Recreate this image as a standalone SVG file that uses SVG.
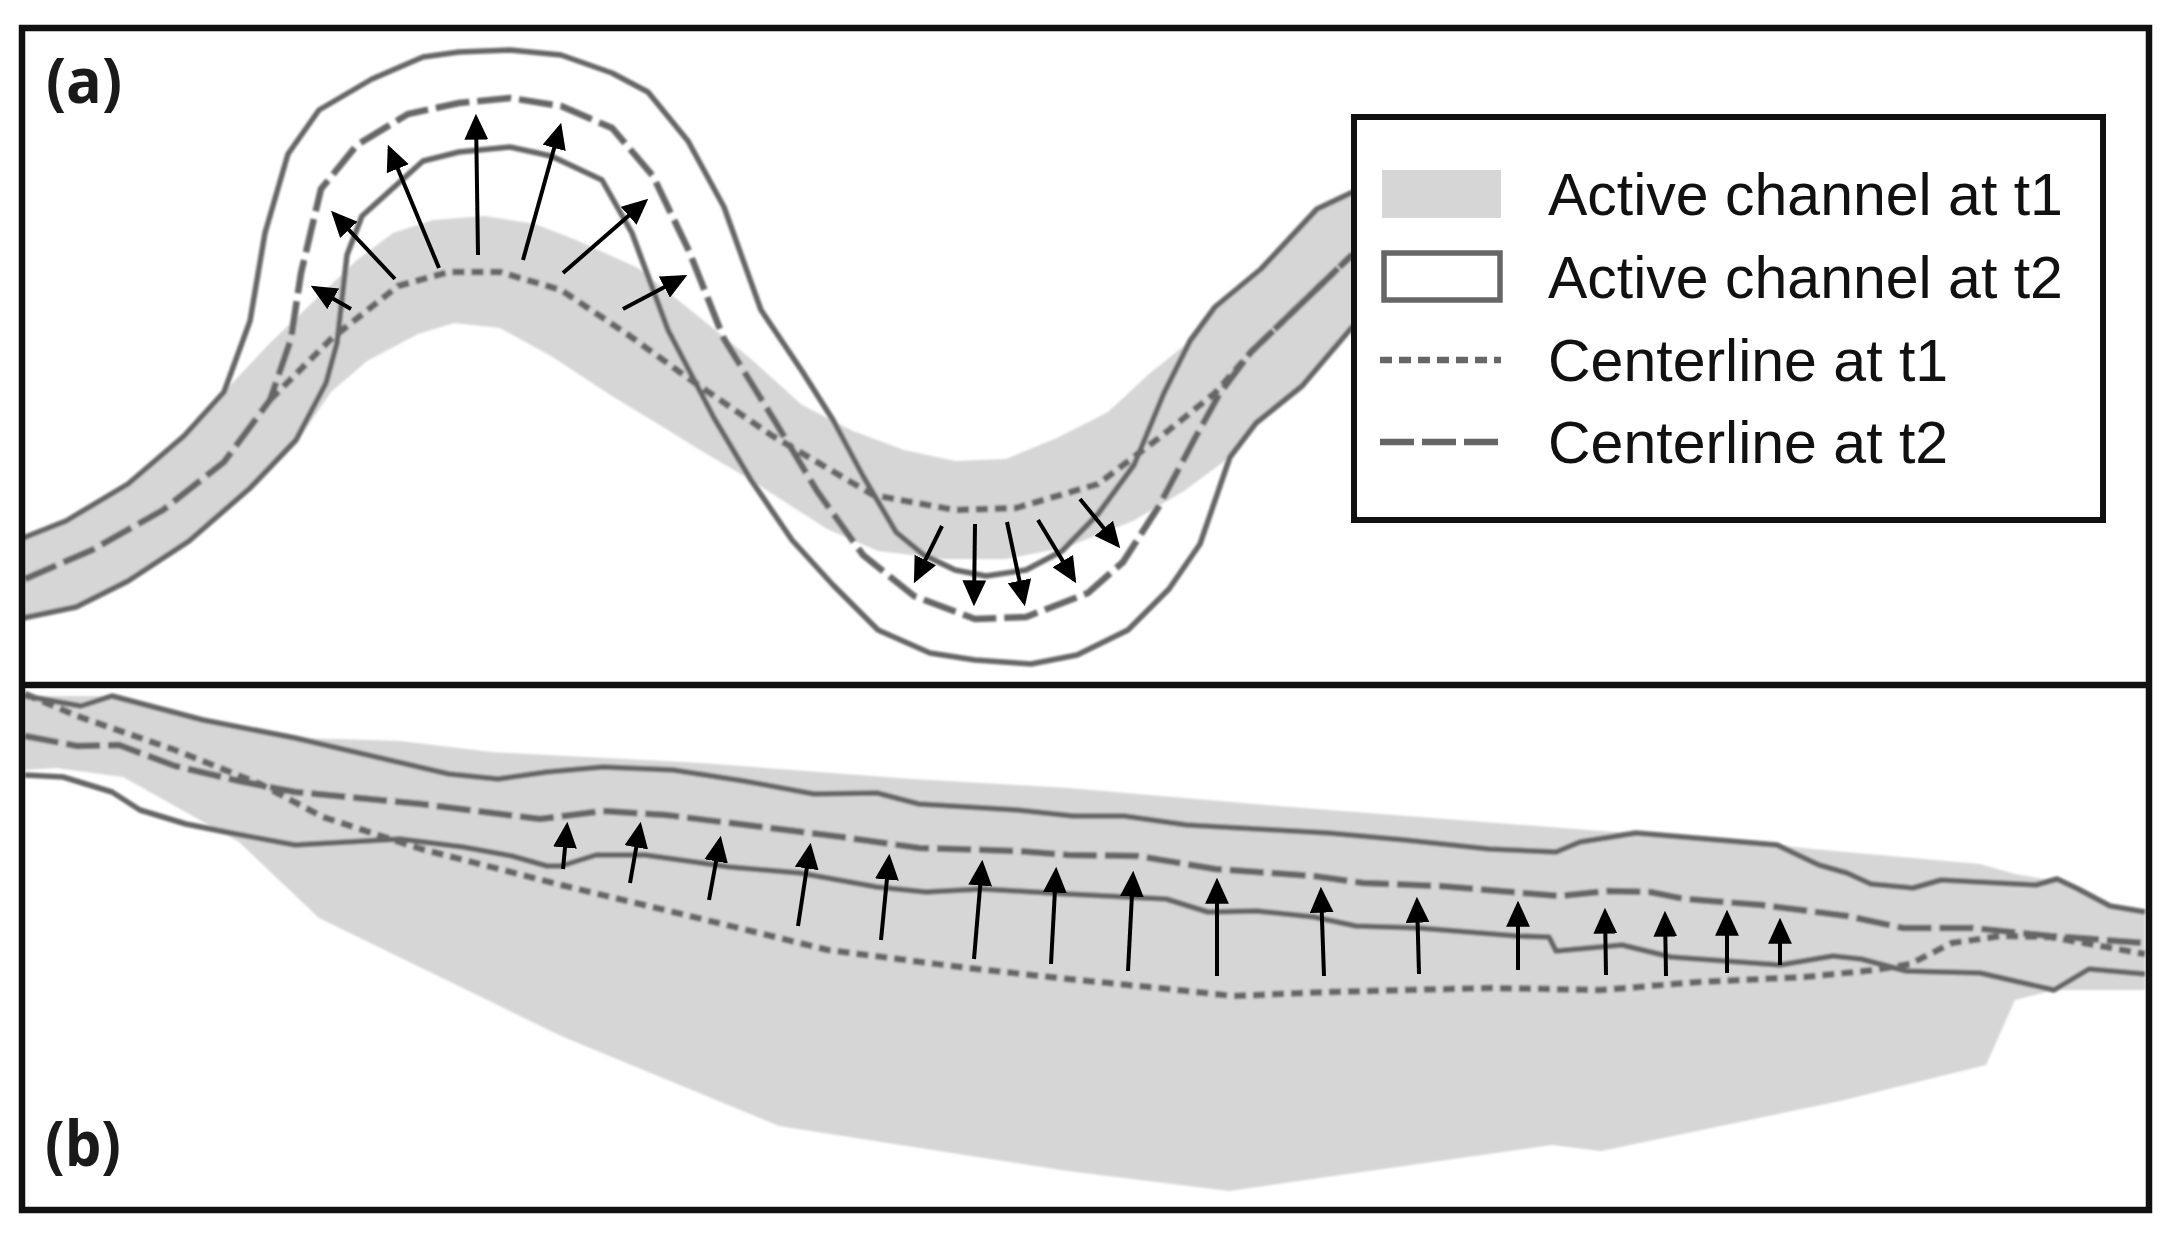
<svg xmlns="http://www.w3.org/2000/svg" width="2168" height="1244" viewBox="0 0 2168 1244">
<style>
.band{fill:#d6d6d6;stroke:none}
.bank{fill:none;stroke:#666;stroke-width:5.5;stroke-linejoin:round}
.t1{fill:none;stroke:#666;stroke-width:6.5;stroke-dasharray:12 7}
.t2{fill:none;stroke:#666;stroke-width:6.5;stroke-dasharray:34 8}
.frame{fill:none;stroke:#111;stroke-width:6.5}
.arrow{fill:none;stroke:#000;stroke-width:4;marker-end:url(#head)}
.lbl{font-family:"Liberation Sans",Arial,sans-serif;font-size:59px;fill:#111}
.tag{font-family:"Open Sans","Liberation Sans",sans-serif;font-size:62px;font-weight:700;fill:#1a1a1a}
</style>
<defs>
<marker id="head" markerUnits="userSpaceOnUse" markerWidth="26" markerHeight="24" viewBox="0 0 24 22" refX="20" refY="11" orient="auto"><path d="M0,0L24,11L0,22z" fill="#000"/></marker>
<clipPath id="pa"><rect x="22" y="28" width="2127" height="657"/></clipPath>
<clipPath id="pb"><rect x="22" y="685" width="2127" height="524"/></clipPath>
<filter id="soft" x="-2%" y="-2%" width="104%" height="104%"><feGaussianBlur stdDeviation="0.8"/></filter>
</defs>
<rect width="2168" height="1244" fill="#fff"/>
<g id="panel-a" clip-path="url(#pa)"><g filter="url(#soft)">
<path class="band" d="M23,538L66,521L128,484L184,436L224,392L270,343L357,260L393,233L433,220L485,216L535,224L576,240L638,268L688,308L751,359L802,405L853,431L904,450L955,461L1006,459L1057,438L1108,412L1149,374L1190,341L1215,307L1261,269L1317,209L1353,192L1353,326L1302,386L1256,423L1230,457L1184,491L1133,521L1067,547L1006,559L945,559L878,551L827,529L751,480L700,450L663,427L612,396L551,356L500,328L454,323L418,334L367,361L331,392L298,440L250,488L189,541L128,581L76,607L23,618z"/>
<path id="a-t2-upper" class="bank" d="M23,538L66,521L128,484L184,436L224,392L250,321L265,233L288,154L319,110L372,79L423,57L459,52L510,50L561,55L612,73L648,92L688,141L724,207L761,310L802,371L833,420L863,476L896,532L924,555L955,570L986,576L1026,570L1062,551L1098,514L1134,465L1164,393L1190,341L1215,307L1261,269L1317,209L1353,192"/>
<path id="a-t2-lower" class="bank" d="M23,618L76,607L128,581L189,541L250,488L296,440L326,383L337,343L347,255L362,216L423,161L459,152L510,147L551,156L602,180L632,233L668,330L714,418L751,480L792,540L833,585L878,630L930,653L975,660L1031,664L1077,655L1128,630L1169,589L1200,544L1230,457L1256,423L1302,386L1353,326"/>
<path id="a-center-t2" class="t2" d="M25,579L92,550L163,510L224,462L270,400L291,339L301,273L321,189L357,145L408,114L459,103L510,98L561,106L612,128L653,176L689,251L724,339L776,423L817,491L863,555L914,596L975,619L1026,617L1088,593L1123,562L1159,506L1195,438L1220,393L1251,352L1353,254"/>
<path id="a-center-t1" class="t1" d="M270,400L331,339L398,286L449,272L500,272L561,290L627,334L688,378L771,435L873,495L955,510L1016,508L1098,484L1159,438L1215,393L1251,352L1353,254"/>
</g></g>
<g id="panel-b" clip-path="url(#pb)"><g filter="url(#soft)">
<path class="band" d="M25,696L112,696L203,720L295,738L337,739L400,741L491,752L701,763L912,779L1068,788L1278,806L1601,831L1636,833L1777,845L1812,849L1980,864L2015,874L2050,880L2078,889L2110,906L2145,912L2145,990L2054,990L2015,1000L1986,1065L1840,1101L1601,1151L1552,1145L1229,1191L1068,1171L779,1126L561,1036L319,918L239,842L123,777L56,768L25,770z"/>
<path id="b-t2-upper" class="bank" d="M25,696L81,706L112,696L203,720L295,738L449,774L498,779L547,772L603,767L673,770L744,781L814,794L877,793L919,804L1017,810L1073,816L1124,816L1187,825L1328,833L1405,840L1489,849L1556,852L1580,842L1636,833L1777,845L1819,865L1847,873L1871,884L1913,888L1941,880L2036,885L2057,879L2078,889L2110,906L2145,912"/>
<path id="b-t2-lower" class="bank" d="M25,775L63,777L112,792L140,810L186,824L231,833L295,845L400,839L463,847L512,856L547,866L561,866L596,855L645,855L730,867L800,873L877,887L926,892L982,889L1068,894L1166,899L1208,912L1257,911L1314,917L1356,926L1419,928L1517,936L1549,937L1556,951L1622,945L1671,957L1780,965L1833,956L1861,959L1906,971L1980,973L2054,990L2089,969L2145,974"/>
<path id="b-center-t2" class="t2" d="M25,736L77,746L119,745L175,766L239,781L295,792L421,804L540,819L603,811L666,815L842,837L919,848L1017,851L1068,855L1138,856L1215,869L1314,876L1363,883L1440,886L1559,896L1608,891L1650,892L1685,899L1762,905L1847,916L1903,928L1973,928L2050,936L2145,943"/>
<path id="b-center-t1" class="t1" d="M25,694L77,716L175,750L260,784L323,817L421,849L561,885L702,919L828,950L968,968L1068,979L1159,988L1233,996L1328,992L1489,988L1601,990L1699,982L1805,977L1875,970L1910,964L1952,943L2001,936L2050,937L2145,954"/>
</g></g>
<g id="connectors">
<path class="arrow" d="M351,309L314.5,288"/>
<path class="arrow" d="M395,279L334,214"/>
<path class="arrow" d="M439,268L389.5,148.7"/>
<path class="arrow" d="M478,255L476,118"/>
<path class="arrow" d="M523,260L560,127"/>
<path class="arrow" d="M563,273L645,201.6"/>
<path class="arrow" d="M623,309L683.5,277"/>
<path class="arrow" d="M942,526L915.8,579.4"/>
<path class="arrow" d="M975,524L974,602"/>
<path class="arrow" d="M1007,522L1024,602"/>
<path class="arrow" d="M1038,520L1074,579.6"/>
<path class="arrow" d="M1080,499L1117.5,545"/>
<path class="arrow" d="M563,869L567,826"/>
<path class="arrow" d="M630,883L640,826"/>
<path class="arrow" d="M709,900L720,840"/>
<path class="arrow" d="M798,926L810,847"/>
<path class="arrow" d="M881,940L889,858"/>
<path class="arrow" d="M974,959L982,864"/>
<path class="arrow" d="M1051,964L1056,871"/>
<path class="arrow" d="M1128,971L1133,875"/>
<path class="arrow" d="M1217,976L1217,882"/>
<path class="arrow" d="M1324,976L1321,891"/>
<path class="arrow" d="M1419,974L1417,901"/>
<path class="arrow" d="M1518,970L1518,905"/>
<path class="arrow" d="M1606,975L1605,912"/>
<path class="arrow" d="M1666,976L1665,915"/>
<path class="arrow" d="M1727,973L1727,914"/>
<path class="arrow" d="M1780,965L1780,922"/>
</g>
<g id="frames">
<rect class="frame" x="22" y="28" width="2127" height="1182"/>
<path class="frame" d="M22,685H2149"/>
</g>
<text id="label-a" class="tag" x="46" y="103" textLength="76" lengthAdjust="spacingAndGlyphs">(a)</text>
<text id="label-b" class="tag" x="45" y="1166" textLength="76" lengthAdjust="spacingAndGlyphs">(b)</text>
<g id="legend">
<rect x="1354" y="117" width="749" height="403" fill="#fff" stroke="#111" stroke-width="6"/>
<g id="legend-t1"><rect class="band" x="1382" y="170" width="119" height="48"/><text class="lbl" x="1548" y="215">Active channel at t1</text></g>
<g id="legend-t2"><rect x="1384" y="253" width="116" height="47" fill="#fff" stroke="#666" stroke-width="5.5"/><text class="lbl" x="1548" y="298">Active channel at t2</text></g>
<g id="legend-c1"><path class="t1" d="M1380,360H1501"/><text class="lbl" x="1548" y="381">Centerline at t1</text></g>
<g id="legend-c2"><path class="t2" d="M1380,442H1501"/><text class="lbl" x="1548" y="463">Centerline at t2</text></g>
</g>
</svg>
